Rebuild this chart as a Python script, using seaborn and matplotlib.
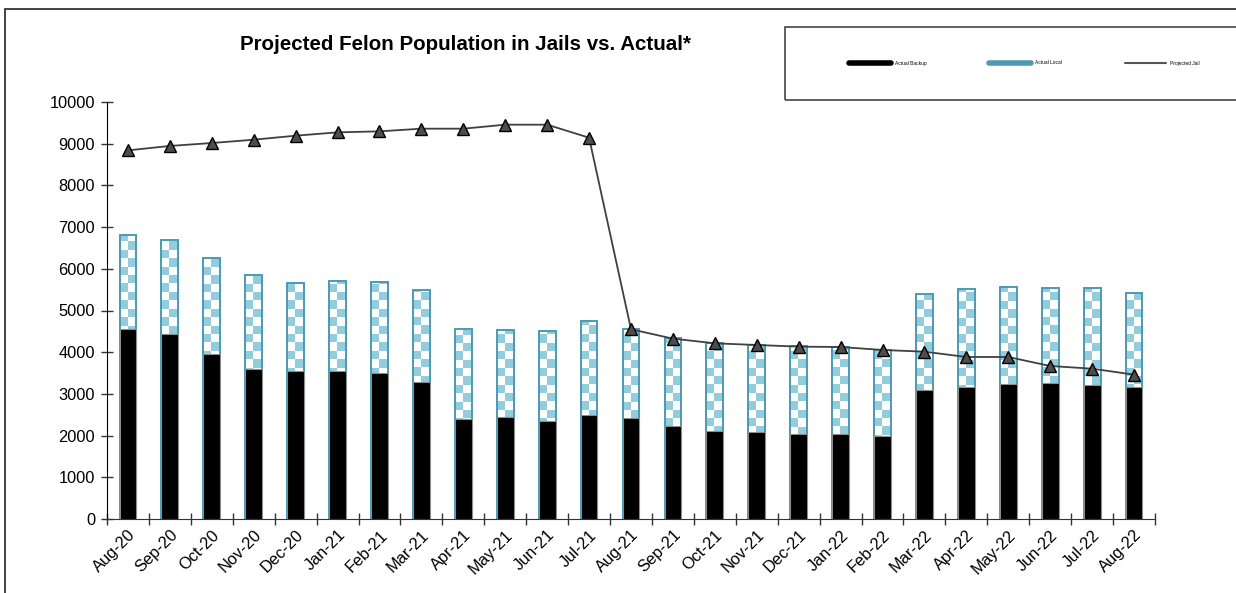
import numpy as np
import pandas as pd
import matplotlib
matplotlib.use("Agg")
import matplotlib.pyplot as plt
from matplotlib.colors import ListedColormap
from matplotlib.lines import Line2D
from matplotlib.patches import Rectangle
import seaborn as sns

# data
months = ["Aug-20", "Sep-20", "Oct-20", "Nov-20", "Dec-20", "Jan-21", "Feb-21", "Mar-21",
          "Apr-21", "May-21", "Jun-21", "Jul-21", "Aug-21", "Sep-21", "Oct-21", "Nov-21",
          "Dec-21", "Jan-22", "Feb-22", "Mar-22", "Apr-22", "May-22", "Jun-22", "Jul-22", "Aug-22"]
actual_backup = [4556, 4436, 3957, 3597, 3557, 3549, 3509, 3285, 2406, 2438, 2350, 2487, 2422,
                 2223, 2110, 2078, 2038, 2038, 1983, 3086, 3173, 3229, 3261, 3213, 3165]
actual_local = [2255, 2255, 2309, 2262, 2110, 2166, 2182, 2207, 2150, 2087, 2150, 2268, 2134,
                2110, 2119, 2103, 2103, 2087, 2077, 2317, 2335, 2327, 2279, 2319, 2263]
projected_jail = [8840, 8946, 9016, 9096, 9192, 9272, 9296, 9360, 9360, 9456, 9456, 9144, 4550,
                  4325, 4213, 4173, 4133, 4125, 4053, 4013, 3885, 3885, 3669, 3605, 3461]

df = pd.DataFrame({
    "month": months,
    "backup": actual_backup,
    "local": actual_local,
    "projected": projected_jail,
})
df["total"] = df["backup"] + df["local"]
df["pos"] = np.arange(len(df))

sns.set_style("white")
plt.rcParams["font.family"] = ["Liberation Sans", "DejaVu Sans"]
plt.rcParams["text.color"] = "black"
plt.rcParams["xtick.color"] = "black"
plt.rcParams["ytick.color"] = "black"

teal_edge = "#4A9BB2"
checker_blue = "#93CDDD"

fig = plt.figure(figsize=(12.36, 5.93), dpi=100)
ax = fig.add_axes([107 / 1236, 74 / 593, 1048 / 1236, 417 / 593])

# total bars (local part visible above backup)
sns.barplot(data=df, x="month", y="total", order=months, width=0.4, color="white",
            saturation=1, edgecolor=teal_edge, linewidth=1.4, ax=ax, zorder=2)
local_patches = list(ax.patches)
for p in local_patches:
    p.set_facecolor("none")

# backup bars drawn over the bottom of the totals
sns.barplot(data=df, x="month", y="backup", order=months, width=0.4, color="black",
            saturation=1, edgecolor="#8C8C8C", linewidth=0.8, ax=ax, zorder=3)

ax.set_xlim(-0.5, len(months) - 0.5)
ax.set_ylim(0, 10000)

# checkerboard fill for the local bars, clipped to each bar
px_per_x = ax.transData.transform((1, 0))[0] - ax.transData.transform((0, 0))[0]
px_per_y = ax.transData.transform((0, 1))[1] - ax.transData.transform((0, 0))[1]
checker_cmap = ListedColormap(["white", checker_blue])
for p in local_patches:
    x0, w = p.get_x(), p.get_width()
    y0, h = p.get_y(), p.get_height()
    ncols = 2
    sq = (w / ncols) * px_per_x / px_per_y
    nrows = int(np.ceil(h / sq))
    board = (np.add.outer(np.arange(nrows), np.arange(ncols)) % 2).astype(float)
    im = ax.imshow(board, extent=(x0, x0 + w, y0, y0 + nrows * sq), origin="lower",
                   aspect="auto", interpolation="nearest", cmap=checker_cmap,
                   vmin=0, vmax=1, zorder=1)
    im.set_clip_path(p)

sns.lineplot(data=df, x="pos", y="projected", sort=False, color="#404040", linewidth=1.3,
             marker="^", markersize=9, markerfacecolor="#4D4D4D", markeredgecolor="black",
             markeredgewidth=1, ax=ax, zorder=4)

ax.set_xlim(-0.5, len(months) - 0.5)
ax.set_ylim(0, 10000)
ax.set_xlabel("")
ax.set_ylabel("")

ax.set_yticks(np.arange(0, 10001, 1000))
ax.set_xticks(np.arange(len(months)))
ax.set_xticklabels(months, rotation=45, ha="right", rotation_mode="anchor")
ax.set_xticks(np.arange(-0.5, len(months)), minor=True)
ax.tick_params(axis="x", which="major", bottom=True, length=0, labelsize=11.8, pad=6)
ax.tick_params(axis="x", which="minor", bottom=True, length=9, direction="inout", width=1,
               color="#333333")
ax.tick_params(axis="y", left=True, length=9, direction="inout", width=1, labelsize=11.8,
               pad=4, color="#333333")
sns.despine(ax=ax)
ax.spines["left"].set_color("black")
ax.spines["bottom"].set_color("#333333")
ax.grid(False)

fig.text(466 / 1236, 1 - 45 / 593, "Projected Felon Population in Jails vs. Actual*",
         ha="center", va="center", fontsize=14.8, fontweight="bold")

# outer frame and legend box
fig.patches.append(Rectangle((5 / 1236, -0.05), 1.1, 1 - 9 / 593 + 0.05,
                             transform=fig.transFigure, fill=False, edgecolor="#222222",
                             linewidth=1.2))
fig.patches.append(Rectangle((785 / 1236, 1 - 100 / 593), 0.5, 73 / 593,
                             transform=fig.transFigure, fill=False, edgecolor="#444444",
                             linewidth=1.2))

handles = [
    Line2D([], [], color="black", linewidth=4),
    Line2D([], [], color=teal_edge, linewidth=4),
    Line2D([], [], color="#555555", linewidth=1.5),
]
fig.legend(handles, ["Actual Backup", "Actual Local", "Projected Jail"], ncol=3,
           loc="center left", bbox_to_anchor=(845 / 1236, 1 - 63 / 593), frameon=False,
           fontsize=3.5, handlelength=8.5, handletextpad=0.8, columnspacing=13)

fig.savefig("out.png", dpi=100)
